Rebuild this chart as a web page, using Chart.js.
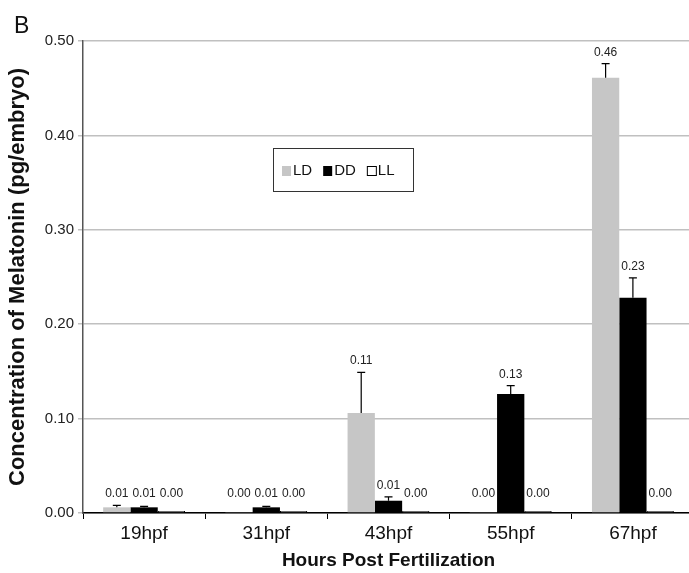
<!DOCTYPE html>
<html>
<head>
<meta charset="utf-8">
<script src="https://cdn.jsdelivr.net/npm/chart.js@4.4.1/dist/chart.umd.min.js"></script>
<style>
  html, body { margin: 0; padding: 0; background: #fff; }
  #wrap { position: relative; width: 689px; height: 573px; overflow: hidden; }
</style>
</head>
<body>
<div id="wrap"><canvas id="c" width="694" height="573"></canvas></div>
<script>
// data
const categories = ['19hpf', '31hpf', '43hpf', '55hpf', '67hpf'];
const seriesNames = ['LD', 'DD', 'LL'];
const ldValues = [0.006, 0.001, 0.106, 0.001, 0.461];
const ldErrors = [0.002, 0.000, 0.043, 0.000, 0.015];
const ddValues = [0.006, 0.006, 0.013, 0.126, 0.228];
const ddErrors = [0.001, 0.001, 0.004, 0.009, 0.021];
const llValues = [0, 0, 0, 0, 0];
const llErrors = [0, 0, 0, 0, 0];
const yTicks = [0, 0.1, 0.2, 0.3, 0.4, 0.5];

const FONT = '"Liberation Sans", Arial, sans-serif';

// error bars (upward only) + value labels
const errPlugin = {
  id: 'errbars',
  afterDatasetsDraw(chart) {
    const ctx = chart.ctx, y = chart.scales.y;
    const y0 = y.getPixelForValue(0);
    chart.data.datasets.forEach((ds, di) => {
      const meta = chart.getDatasetMeta(di);
      meta.data.forEach((bar, i) => {
        const v = ds.data[i], e = ds.errors[i];
        const top = y.getPixelForValue(v + e);
        ctx.save();
        if (e > 0) {
          ctx.strokeStyle = '#000';
          ctx.lineWidth = 1.2;
          ctx.beginPath();
          ctx.moveTo(bar.x, y.getPixelForValue(v));
          ctx.lineTo(bar.x, top);
          ctx.moveTo(bar.x - 4, top);
          ctx.lineTo(bar.x + 4, top);
          ctx.stroke();
        }
        ctx.fillStyle = '#222';
        ctx.font = '12px ' + FONT;
        ctx.textAlign = 'center';
        ctx.textBaseline = 'alphabetic';
        ctx.fillText(v.toFixed(2), bar.x, Math.min(top - 8, y0 - 16));
        ctx.restore();
      });
    });
  }
};

// inset legend box + panel letter
const legendPlugin = {
  id: 'insetLegend',
  afterDraw(chart) {
    const ctx = chart.ctx;
    ctx.save();
    ctx.strokeStyle = '#333';
    ctx.lineWidth = 1;
    ctx.strokeRect(273.5, 148.5, 140, 43);
    ctx.font = '15px ' + FONT;
    ctx.textBaseline = 'middle';
    let x = 282;
    const cy = 171;
    chart.data.datasets.forEach(ds => {
      ctx.fillStyle = ds.backgroundColor;
      ctx.fillRect(x, cy - 5, 9, 10);
      if (ds.borderWidth) { ctx.strokeStyle = '#000'; ctx.strokeRect(x + 0.5, cy - 4.5, 9, 9); }
      ctx.fillStyle = '#111';
      ctx.fillText(ds.label, x + 11, cy);
      x += 11 + ctx.measureText(ds.label).width + 11;
    });
    ctx.font = '23px ' + FONT;
    ctx.fillStyle = '#111';
    ctx.textBaseline = 'alphabetic';
    ctx.fillText('B', 14, 33);
    ctx.restore();
  }
};

new Chart(document.getElementById('c'), {
  type: 'bar',
  data: {
    labels: categories,
    datasets: [
      { label: seriesNames[0], data: ldValues, errors: ldErrors, backgroundColor: '#c6c6c6', borderWidth: 0 },
      { label: seriesNames[1], data: ddValues, errors: ddErrors, backgroundColor: '#000000', borderWidth: 0 },
      { label: seriesNames[2], data: llValues, errors: llErrors, backgroundColor: '#ffffff', borderColor: '#000', borderWidth: 1, minBarLength: 2 },
    ]
  },
  options: {
    responsive: false,
    animation: false,
    layout: { padding: { top: 41, right: 0, left: 7, bottom: 0 } },
    datasets: { bar: { categoryPercentage: 0.67, barPercentage: 1 } },
    plugins: { legend: { display: false }, tooltip: { enabled: false } },
    scales: {
      x: {
        grid: { display: true, offset: true, drawOnChartArea: false, tickLength: 6, color: '#000' },
        border: { color: '#000', width: 1.5 },
        ticks: { color: '#111', font: { family: FONT, size: 19 }, padding: 3 },
        title: { display: true, text: 'Hours Post Fertilization', color: '#111', font: { family: FONT, size: 19, weight: 'bold', lineHeight: 1 }, padding: { top: 2, bottom: 3 } },
        afterFit: s => { s.height = 60; }
      },
      y: {
        min: 0, max: 0.5,
        afterBuildTicks: s => { s.ticks = yTicks.map(v => ({ value: v })); },
        grid: { color: '#c0c0c0', lineWidth: 1.5, tickLength: 5, drawTicks: true },
        border: { color: '#555', width: 1.5 },
        ticks: { color: '#222', font: { family: FONT, size: 15 }, padding: 4, callback: v => v.toFixed(2) },
        title: { display: true, text: 'Concentration of Melatonin (pg/embryo)', color: '#111', font: { family: FONT, size: 22, weight: 'bold', lineHeight: 1 }, padding: { top: 0, bottom: 4 } },
        afterFit: s => { s.width = 76; }
      }
    }
  },
  plugins: [errPlugin, legendPlugin]
});
</script>
</body>
</html>
